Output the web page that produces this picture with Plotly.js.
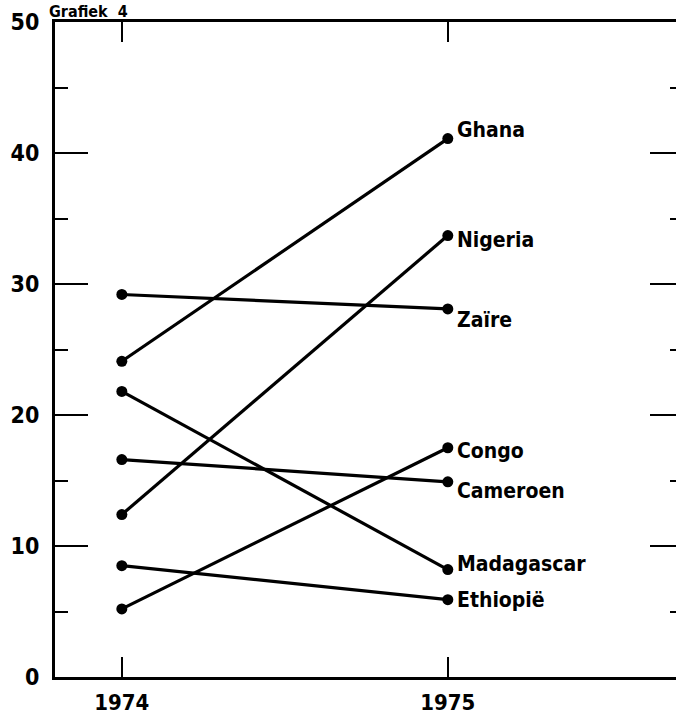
<!DOCTYPE html>
<html>
<head>
<meta charset="utf-8">
<script src="https://cdn.plot.ly/plotly-3.0.1.min.js"></script>
<style>html,body{margin:0;padding:0;background:#fff;}#chart{width:676px;height:718px;}</style>
</head>
<body>
<div id="chart"></div>
<script>
const years = [1974, 1975];
const countries = ["Ghana", "Nigeria", "Zaïre", "Madagascar", "Cameroen", "Congo", "Ethiopië"];
const values1974 = [24.1, 12.4, 29.2, 21.8, 16.6, 5.2, 8.5];
const values1975 = [41.1, 33.7, 28.1, 8.2, 14.9, 17.5, 5.9];
const labelShift = [9, -4, -11, 6, -9, -3, 0];
const yTicks = [0, 10, 20, 30, 40, 50];

const FONT = "DejaVu Sans Condensed, DejaVu Sans";
const traces = countries.map((c, i) => ({
  x: years,
  y: [values1974[i], values1975[i]],
  type: "scatter",
  mode: "lines+markers",
  name: c,
  line: {color: "#000", width: 3.2},
  marker: {color: "#000", size: 11},
  hoverinfo: "skip"
}));
traces.push({x: [years[0]], y: [0], yaxis: "y2", mode: "markers", marker: {opacity: 0}, hoverinfo: "skip", showlegend: false});

const annotations = countries.map((c, i) => ({
  x: years[1], y: values1975[i], xref: "x", yref: "y",
  text: c, showarrow: false, xanchor: "left", yanchor: "middle",
  xshift: 7, yshift: labelShift[i],
  font: {family: FONT, size: 21, color: "#000", weight: "bold"}
}));
annotations.push({
  x: 0, y: 1, xref: "paper", yref: "paper", xanchor: "left", yanchor: "middle",
  xshift: -8, yshift: 11, text: "Grafiek  4", showarrow: false,
  font: {family: FONT, size: 16, color: "#000", weight: "bold"}
});

const layout = {
  width: 676, height: 718,
  margin: {l: 55, r: 0, t: 22, b: 41},
  paper_bgcolor: "#fff", plot_bgcolor: "#fff",
  showlegend: false,
  xaxis: {
    range: [1973.795, 1975.70], tickvals: years, ticktext: years.map(String),
    ticks: "inside", ticklen: 20, tickwidth: 2, tickcolor: "#000",
    showline: true, linewidth: 3, linecolor: "#000", mirror: "ticks",
    showgrid: false, zeroline: false,
    tickfont: {family: FONT, size: 22, color: "#000", weight: "bold"},
    ticklabelstandoff: 4
  },
  yaxis: {
    range: [0, 50], tickvals: yTicks,
    ticks: "inside", ticklen: 33, tickwidth: 2, tickcolor: "#000",
    minor: {dtick: 5, tick0: 0, ticks: "inside", ticklen: 13, tickwidth: 2, tickcolor: "#000"},
    showline: true, linewidth: 3, linecolor: "#000",
    showgrid: false, zeroline: false,
    tickfont: {family: FONT, size: 23, color: "#000", weight: "bold"},
    ticklabelstandoff: 8
  },
  yaxis2: {
    overlaying: "y", side: "right", range: [0, 50], tickvals: yTicks,
    ticks: "inside", ticklen: 26, tickwidth: 2, tickcolor: "#000",
    minor: {dtick: 5, tick0: 0, ticks: "inside", ticklen: 6, tickwidth: 2, tickcolor: "#000"},
    showticklabels: false, showline: false, showgrid: false, zeroline: false
  },
  annotations: annotations
};

Plotly.newPlot("chart", traces, layout, {staticPlot: true, displayModeBar: false});
</script>
</body>
</html>
